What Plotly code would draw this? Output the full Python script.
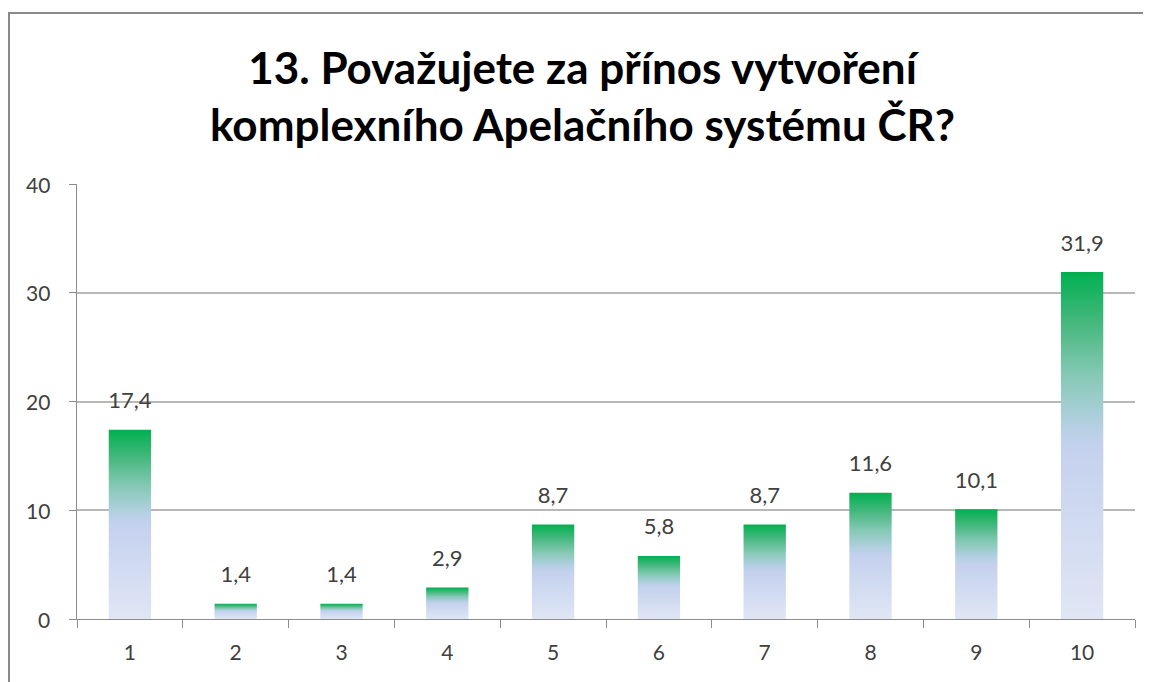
import plotly.graph_objects as go

categories = ["1", "2", "3", "4", "5", "6", "7", "8", "9", "10"]
values = [17.4, 1.4, 1.4, 2.9, 8.7, 5.8, 8.7, 11.6, 10.1, 31.9]
y_ticks = [0, 10, 20, 30, 40]

title = "<b>13. Považujete za přínos vytvoření<br>komplexního Apelačního systému ČR?</b>"

# gradient like the excel one: light blue at the bottom, green at the top
bar_colorscale = [
    [0.0, "#e0e6f4"],
    [0.5, "#c4d1ee"],
    [0.56, "#b4d0e2"],
    [0.7, "#86c9b6"],
    [0.85, "#47b87f"],
    [1.0, "#00b050"],
]
bar_half = 0.2

# plot area in figure pixels (page has 8px body margin)
W, H = 1151, 682
L, T, R, B = 69, 176, 24, 71
plot_w = W - L - R
plot_h = H - T - B

fig = go.Figure()

for i, v in enumerate(values):
    x = i + 1
    fig.add_trace(
        go.Scatter(
            x=[x - bar_half, x - bar_half, x + bar_half, x + bar_half, x - bar_half],
            y=[0, v, v, 0, 0],
            mode="lines",
            line=dict(width=0),
            fill="toself",
            fillgradient=dict(type="vertical", colorscale=bar_colorscale),
            hoverinfo="skip",
            showlegend=False,
        )
    )

# popisky hodnot
fig.add_trace(
    go.Scatter(
        x=list(range(1, len(values) + 1)),
        y=values,
        mode="markers+text",
        marker=dict(size=24, opacity=0),
        text=["{:.1f}".format(v).replace(".", ",") for v in values],
        textposition="top center",
        textfont=dict(family="Lato", size=22, color="#404040"),
        hoverinfo="skip",
        showlegend=False,
    )
)

# popisky osy y (kvuli vetsi mezere od osy)
for t in y_ticks:
    fig.add_annotation(
        text=str(t),
        xref="paper",
        yref="y",
        x=0,
        y=t,
        xanchor="right",
        yanchor="middle",
        xshift=-25,
        showarrow=False,
        font=dict(family="Lato", size=21, color="#404040"),
    )

# ramecek grafu
fig.add_shape(
    type="rect",
    xref="paper",
    yref="paper",
    x0=(1 - L) / plot_w,
    x1=(W + 20 - L) / plot_w,
    y0=-(B + 20) / plot_h,
    y1=(plot_h + T - 5) / plot_h,
    line=dict(color="#8a8a8a", width=2),
    fillcolor="rgba(0,0,0,0)",
    layer="above",
)

fig.add_annotation(
    text=title,
    xref="paper",
    yref="paper",
    x=(574 - L) / plot_w,
    y=(plot_h + T - 88) / plot_h,
    xanchor="center",
    yanchor="middle",
    showarrow=False,
    font=dict(family="Lato", size=44, color="#000000"),
)

fig.update_layout(
    width=W,
    height=H,
    margin=dict(l=L, r=R, t=T, b=B),
    paper_bgcolor="white",
    plot_bgcolor="white",
    font=dict(family="Lato", size=21, color="#404040"),
    xaxis=dict(
        range=[0.5, 10.5],
        tickvals=list(range(1, len(categories) + 1)),
        ticktext=categories,
        ticks="",
        showgrid=False,
        zeroline=False,
        showline=True,
        linecolor="#8c8c8c",
        linewidth=1,
        ticklabelstandoff=15,
        minor=dict(
            tickvals=[k + 0.5 for k in range(len(categories) + 1)],
            ticks="outside",
            ticklen=8,
            tickcolor="#8c8c8c",
            showgrid=False,
        ),
    ),
    yaxis=dict(
        range=[0, 40],
        tickvals=y_ticks,
        showticklabels=False,
        ticks="outside",
        ticklen=7,
        tickcolor="#8c8c8c",
        showgrid=True,
        gridcolor="#b8b8b8",
        gridwidth=1.5,
        zeroline=False,
        showline=True,
        linecolor="#8c8c8c",
        linewidth=1,
    ),
)

fig.write_html("out.html")
